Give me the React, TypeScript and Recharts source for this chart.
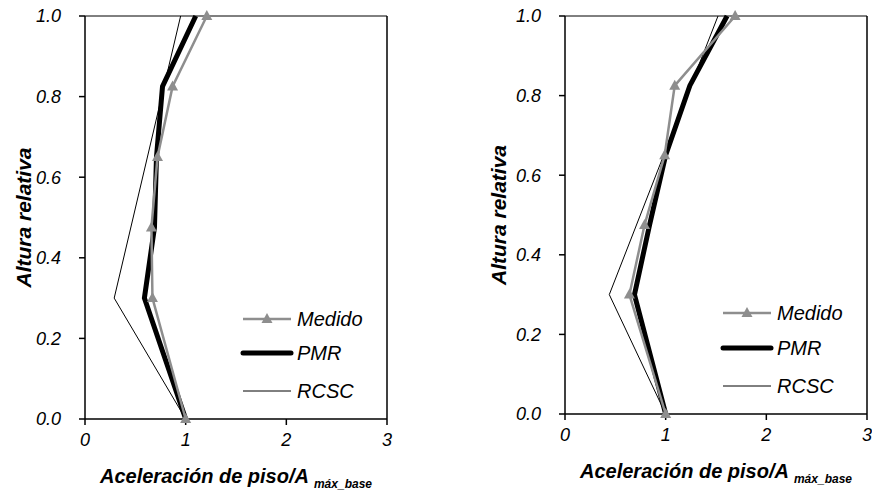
import React from "react";
import { Line, LineChart, ReferenceLine, XAxis, YAxis } from "recharts";

const HEIGHTS = [0, 0.3, 0.475, 0.65, 0.825, 1.0];
const RCSC_HEIGHTS = [0, 0.3, 1.0];

const MEDIDO_A = [1.0, 0.67, 0.66, 0.72, 0.87, 1.21];
const PMR_A = [1.0, 0.59, 0.69, 0.71, 0.77, 1.1];
const RCSC_A = [1.0, 0.29, 0.95];

const MEDIDO_B = [1.0, 0.64, 0.79, 0.99, 1.09, 1.69];
const PMR_B = [1.0, 0.69, 0.84, 1.0, 1.24, 1.61];
const RCSC_B = [1.0, 0.44, 1.52];

const X_TICKS = [0, 1, 2, 3];
const Y_TICKS = [0, 0.2, 0.4, 0.6, 0.8, 1.0];
const SERIES_NAMES = ["Medido", "PMR", "RCSC"];

const GRAY = "#8e8e8e";
const FONT = "'Liberation Sans', Arial, sans-serif";

const toPoints = (xs: number[], ys: number[]) => xs.map((x, i) => ({ x, y: ys[i] }));

const Triangle = (props: any) => {
  const { cx, cy } = props;
  if (cx == null || cy == null) return null;
  return <polygon points={`${cx},${cy - 6} ${cx - 5.5},${cy + 4} ${cx + 5.5},${cy + 4}`} fill={GRAY} />;
};

const XTick = (props: any) => {
  const { x, y, payload } = props;
  return <text x={x} y={y + 19} textAnchor="middle" fontSize={18} fontStyle="italic" fontFamily={FONT} fill="#000">
    {payload.value}
  </text>;
};

const YTick = (props: any) => {
  const { x, y, payload } = props;
  return <text x={x - 16} y={y} dy="0.35em" textAnchor="end" fontSize={18} fontStyle="italic" fontFamily={FONT} fill="#000">
    {Number(payload.value).toFixed(1)}
  </text>;
};

// legend drawn on top of the plot (recharts' Legend would steal plot height)
const LegendBox = ({ left, top, gaps }: { left: number; top: number; gaps: number[] }) => (
  <svg width={140} height={100} style={{ position: "absolute", left, top, overflow: "visible" }}>
    {SERIES_NAMES.map((name, i) => {
      const y = gaps[i];
      return <g key={name}>
        <line x1={0} x2={48} y1={y} y2={y}
          stroke={i === 0 ? GRAY : "#000"} strokeWidth={i === 0 ? 2.5 : i === 1 ? 5 : 1}
          strokeLinecap={i === 1 ? "round" : "butt"} />
        {i === 0 && <polygon points={`24,${y - 6} 18.5,${y + 4} 29.5,${y + 4}`} fill={GRAY} />}
        <text x={54} y={y} dy="0.35em" fontSize={20} fontStyle="italic" fontFamily={FONT} fill="#000">{name}</text>
      </g>;
    })}
  </svg>
);

const XTitle = (props: any) => {
  const { viewBox } = props;
  const cx = viewBox.x + viewBox.width / 2;
  return <text x={cx} y={viewBox.y + 64} textAnchor="middle" fontFamily={FONT}
    fontWeight="bold" fontStyle="italic" fill="#000">
    <tspan fontSize={20}>Aceleración de piso/A</tspan>
    <tspan fontSize={12} dx={5} dy={5}>máx_base</tspan>
  </text>;
};

const YTitle = ({ x, y }: { x: number; y: number }) => () => (
  <text x={x} y={y} transform={`rotate(-90 ${x} ${y})`} textAnchor="middle" dy="0.35em"
    fontFamily={FONT} fontWeight="bold" fontStyle="italic" fontSize={21} fill="#000">Altura relativa</text>
);

type PanelProps = {
  width: number; height: number;
  margin: { top: number; right: number; left: number; bottom: number };
  medido: number[]; pmr: number[]; rcsc: number[];
  titleX: number;
};

const Panel = (p: PanelProps) => {
  const plotTop = p.margin.top;
  const plotBottom = p.height - p.margin.bottom - 30;
  return <LineChart width={p.width} height={p.height} margin={p.margin} style={{ overflow: "visible" }}>
    <XAxis type="number" dataKey="x" domain={[0, 3]} ticks={X_TICKS} interval={0} allowDataOverflow
      stroke="#000" strokeWidth={1.5} tickSize={6} height={30}
      tick={<XTick />} label={<XTitle />} />
    <YAxis type="number" dataKey="y" domain={[0, 1]} ticks={Y_TICKS} interval={0} width={85}
      stroke="#000" strokeWidth={1.5} tickSize={6}
      tick={<YTick />} label={YTitle({ x: p.titleX, y: (plotTop + plotBottom) / 2 })} />
    <ReferenceLine y={1} stroke="#000" strokeWidth={1} />
    <ReferenceLine x={3} stroke="#000" strokeWidth={1.5} />
    <Line data={toPoints(p.rcsc, RCSC_HEIGHTS)} dataKey="y" name="RCSC" stroke="#000" strokeWidth={1}
      dot={false} isAnimationActive={false} type="linear" />
    <Line data={toPoints(p.pmr, HEIGHTS)} dataKey="y" name="PMR" stroke="#000" strokeWidth={5}
      dot={false} isAnimationActive={false} type="linear" />
    <Line data={toPoints(p.medido, HEIGHTS)} dataKey="y" name="Medido" stroke={GRAY} strokeWidth={2.5}
      dot={<Triangle />} activeDot={false} isAnimationActive={false} type="linear" />
  </LineChart>;
};

export default function App() {
  return <div style={{ position: "fixed", left: 0, top: 0, width: 872, height: 496, background: "#fff" }}>
    <div style={{ position: "absolute", left: 0, top: 0 }}>
      <Panel width={430} height={496} margin={{ top: 16, right: 43, left: 0, bottom: 47 }}
        medido={MEDIDO_A} pmr={PMR_A} rcsc={RCSC_A} titleX={24} />
    </div>
    <div style={{ position: "absolute", left: 430, top: 0 }}>
      <Panel width={442} height={496} margin={{ top: 16, right: 5, left: 50, bottom: 52 }}
        medido={MEDIDO_B} pmr={PMR_B} rcsc={RCSC_B} titleX={69} />
    </div>
    <LegendBox left={243} top={309} gaps={[10, 44, 82]} />
    <LegendBox left={723} top={303} gaps={[10, 45, 83]} />
  </div>;
}
